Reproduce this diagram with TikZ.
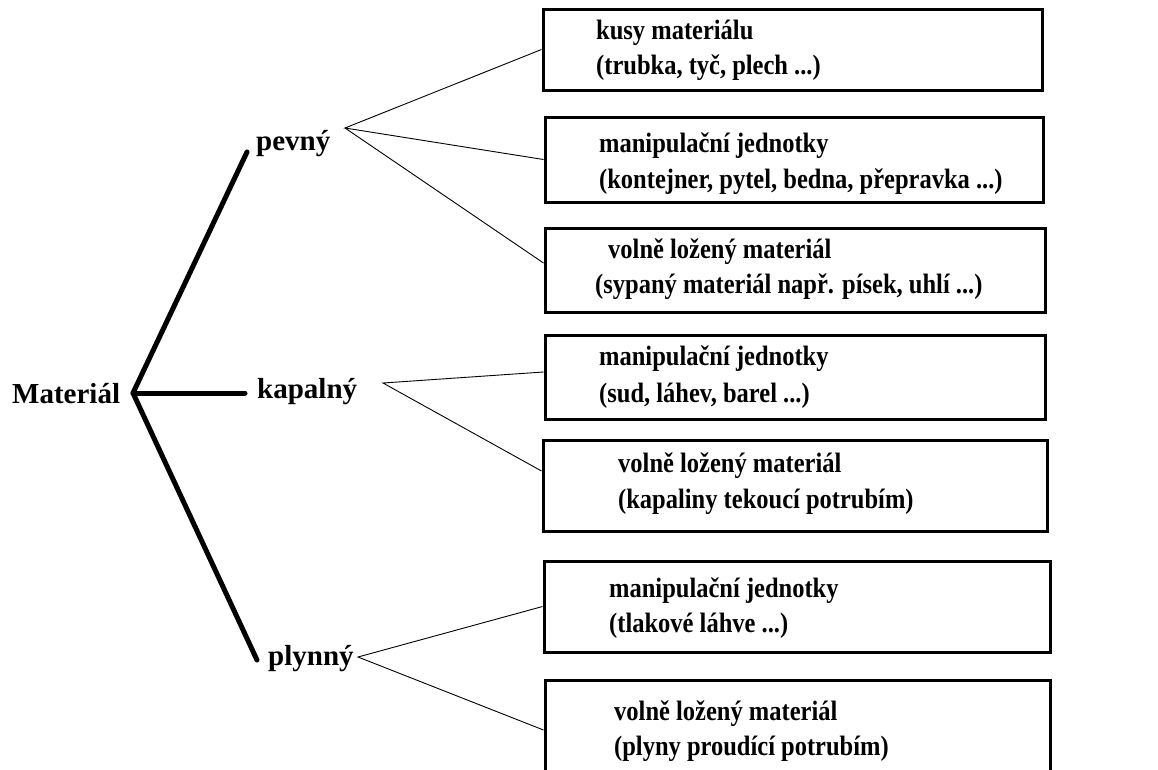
\documentclass[tikz,border=0pt]{standalone}
\usepackage{fontspec}
\setmainfont{Liberation Serif}
\newfontfamily\boxfont[FakeStretch=0.875]{Liberation Serif}
\begin{document}
\begin{tikzpicture}[x=1pt,y=-1pt,
  box/.style={draw,line width=3pt,minimum width=#1,inner sep=0pt},
  txt/.style={anchor=base west,inner sep=0pt,font=\boxfont\bfseries\fontsize{28}{32}\selectfont},
  lab/.style={anchor=base west,inner sep=0pt,font=\bfseries\fontsize{29}{33}\selectfont},
  thick line/.style={line width=5pt,line cap=round,line join=round},
  thin line/.style={line width=0.9pt}]
\clip (0,0) rectangle (1158,769);
\fill[white] (0,0) rectangle (1158,769);
% boxes
\node[box=499pt,minimum height=81pt] (b1) at (792.5,49.5) {};
\node[box=498pt,minimum height=85pt] (b2) at (794,159.5) {};
\node[box=500pt,minimum height=84pt] (b3) at (795,270) {};
\node[box=500pt,minimum height=84pt] (b4) at (795,377) {};
\node[box=504pt,minimum height=91pt] (b5) at (795,485.5) {};
\node[box=506pt,minimum height=91pt] (b6) at (797,606.5) {};
\node[box=505pt,minimum height=100pt] (b7) at (797.5,730) {};
% box texts
\node[txt] (t1a) at (596,39) {kusy materiálu};
\node[txt] (t1b) at (596,74) {(trubka, tyč, plech ...)};
\node[txt] (t2a) at (599,152) {manipulační jednotky};
\node[txt] (t2b) at (599,188) {(kontejner, pytel, bedna, přepravka ...)};
\node[txt] (t3a) at (608,258) {volně ložený materiál};
\node[txt] (t3b) at (595,293) {(sypaný materiál např. písek, uhlí ...)};
\node[txt] (t4a) at (599,365) {manipulační jednotky};
\node[txt] (t4b) at (599,402) {(sud, láhev, barel ...)};
\node[txt] (t5a) at (618,472) {volně ložený materiál};
\node[txt] (t5b) at (618,508) {(kapaliny tekoucí potrubím)};
\node[txt] (t6a) at (609,597) {manipulační jednotky};
\node[txt] (t6b) at (609,632) {(tlakové láhve ...)};
\node[txt] (t7a) at (614,720) {volně ložený materiál};
\node[txt] (t7b) at (614,755) {(plyny proudící potrubím)};
% left labels
\node[lab] (mat) at (12,403) {Materiál};
\node[lab] (pev) at (256,150) {pevný};
\node[lab] (kap) at (257,398) {kapalný};
\node[lab] (ply) at (268,665) {plynný};
% coordinates
\coordinate (j) at (133,393);
\coordinate (ep) at (247,152);
\coordinate (ek) at (245,393);
\coordinate (eg) at (257,660);
\coordinate (fp) at (345,128);
\coordinate (fk) at (383,383);
\coordinate (fg) at (358,657);
% thick branches
\draw[thick line] (ep) -- (j) -- (eg);
\draw[thick line] (j) -- (ek);
% thin fans
\draw[thin line] (b1.west) -- (fp) -- (b2.west);
\draw[thin line] (fp) -- ([yshift=7pt]b3.west);
\draw[thin line] ([yshift=5pt]b4.west) -- (fk) -- ([yshift=14.5pt]b5.west);
\draw[thin line] (b6.west) -- (fg) -- (b7.west);
\end{tikzpicture}
\end{document}
